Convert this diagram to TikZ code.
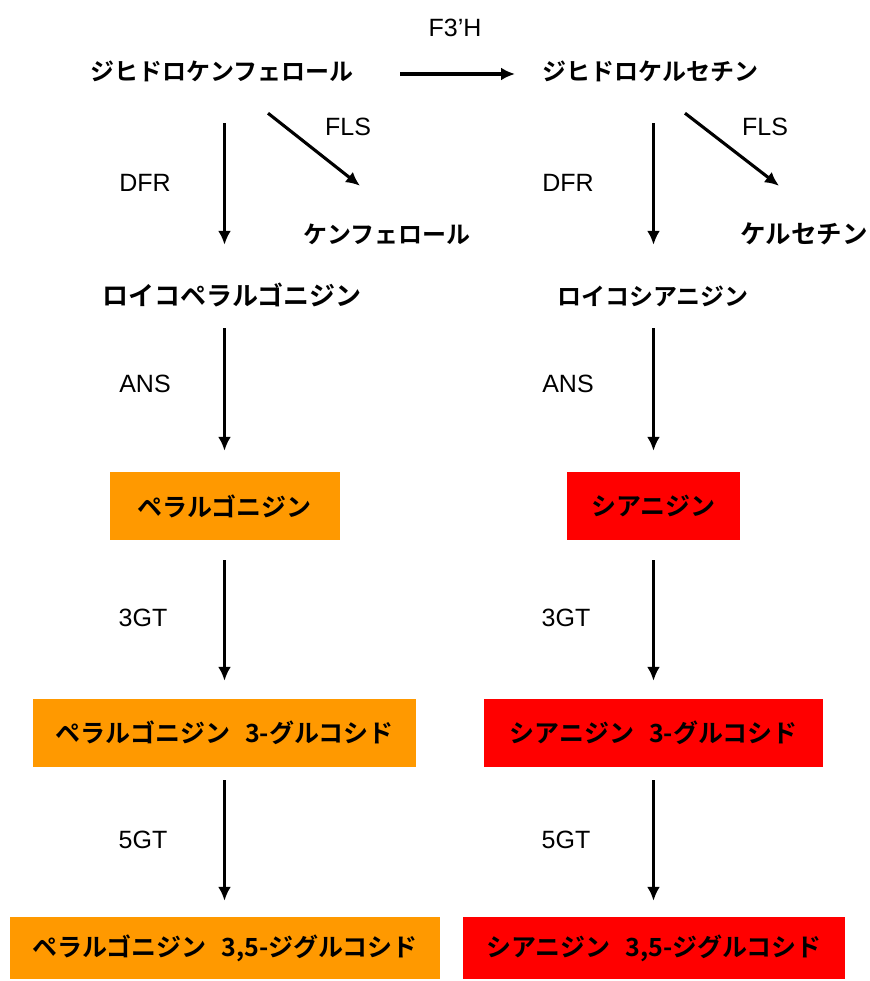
\documentclass[tikz,border=0pt]{standalone}
\usepackage{fontspec}
\setmainfont{Liberation Sans}
\newfontfamily\jp{Noto Sans CJK JP}[BoldFont={Noto Sans CJK JP Bold}]
\usetikzlibrary{arrows.meta}
\definecolor{pelor}{HTML}{FF9900}
\definecolor{cyred}{HTML}{FF0000}
\tikzset{
  jtext/.style={inner sep=0pt, text height=18pt, text depth=4pt, font=\jp\bfseries\fontsize{24}{28}\selectfont},
  enz/.style={inner sep=0pt, font=\fontsize{25}{30}\selectfont},
  box/.style={inner sep=0pt, font=\jp\bfseries\fontsize{25}{29}\selectfont},
  obox/.style={box, fill=pelor},
  rbox/.style={box, fill=cyred},
  arr/.style={line width=3.1pt, -{Latex[length=14pt,width=13pt]}}
}
\begin{document}
\begin{tikzpicture}[x=1pt,y=-1pt]
\useasboundingbox (0,0) rectangle (869,981);
% top row
\node[jtext] (dhk) at (222,74) {ジヒドロケンフェロール};
\node[jtext] (dhq) at (650,74) {ジヒドロケルセチン};
\node[enz] (f3h) at (455,28) {F3’H};
\draw[arr] ([xshift=178]dhk.center) -- ([xshift=-135]dhq.center);
% flavonols
\node[jtext] (kae) at (387,237) {ケンフェロール};
\node[jtext, font=\jp\bfseries\fontsize{25.5}{30}\selectfont] (que) at (804,237) {ケルセチン};
\node[enz] (fls1) at (348,127) {FLS};
\node[enz] (fls2) at (765,127) {FLS};
\draw[arr] ([shift={(46,28)}]dhk.south) -- ([shift={(-27,-40)}]kae.north);
\draw[arr] ([shift={(35,28)}]dhq.south) -- ([shift={(-25,-40)}]que.north);
% leuco
\node[jtext, font=\jp\bfseries\fontsize{26}{30}\selectfont] (lp) at (232,298) {ロイコペラルゴニジン};
\node[jtext] (lc) at (653,298) {ロイコシアニジン};
\node[enz] (dfr1) at (145,183) {DFR};
\node[enz] (dfr2) at (568,183) {DFR};
% anthocyanidins
\node[obox, minimum width=230pt, minimum height=68pt] (pel) at (224.5,506) {ペラルゴニジン};
\node[rbox, minimum width=173pt, minimum height=68pt] (cya) at (653.5,506) {シアニジン};
\node[enz] (ans1) at (145,384) {ANS};
\node[enz] (ans2) at (568,384) {ANS};
% 3-glucosides
\node[obox, minimum width=383pt, minimum height=68pt] (pel3) at (224.5,733) {ペラルゴニジン\hspace{0.6em}3-グルコシド};
\node[rbox, minimum width=339pt, minimum height=68pt] (cya3) at (653.5,733) {シアニジン\hspace{0.6em}3-グルコシド};
\node[enz] (gt31) at (143,618) {3GT};
\node[enz] (gt32) at (566,618) {3GT};
% 3,5-diglucosides
\node[obox, minimum width=430pt, minimum height=62pt] (pel35) at (225,948) {ペラルゴニジン\hspace{0.6em}3,5-ジグルコシド};
\node[rbox, minimum width=382pt, minimum height=62pt] (cya35) at (654,948) {シアニジン\hspace{0.6em}3,5-ジグルコシド};
\node[enz] (gt51) at (143,840) {5GT};
\node[enz] (gt52) at (566,840) {5GT};
% vertical arrows left
\draw[arr, shorten <=38pt, shorten >=42pt] (dhk.south -| pel.center) -- (lp.north -| pel.center);
\draw[arr, shorten <=19pt, shorten >=21pt] (lp.south -| pel.center) -- (pel.north);
\draw[arr, shorten <=20pt, shorten >=18pt] (pel.south) -- (pel3.north);
\draw[arr, shorten <=13pt, shorten >=16pt] (pel3.south) -- (pel35.north -| pel3.center);
% vertical arrows right
\draw[arr, shorten <=38pt, shorten >=42pt] (dhq.south -| cya.center) -- (lc.north -| cya.center);
\draw[arr, shorten <=19pt, shorten >=21pt] (lc.south -| cya.center) -- (cya.north);
\draw[arr, shorten <=20pt, shorten >=18pt] (cya.south) -- (cya3.north);
\draw[arr, shorten <=13pt, shorten >=16pt] (cya3.south) -- (cya35.north -| cya3.center);
\end{tikzpicture}
\end{document}
